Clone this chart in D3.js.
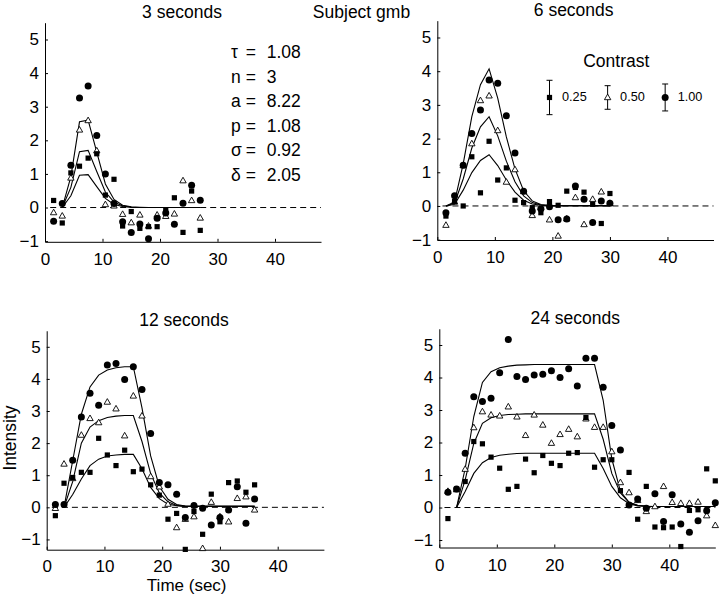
<!DOCTYPE html>
<html><head><meta charset="utf-8">
<script src="https://cdn.jsdelivr.net/npm/d3@7"></script>
<style>
body{margin:0;background:#fff}
svg{display:block}
text{font-family:"Liberation Sans",Arial,Helvetica,sans-serif;fill:#000}
</style>
</head><body>
<svg id="c" width="720" height="598"></svg>
<script>
// ---------- data ----------
const xTicks = [0, 10, 20, 30, 40];
const yTicks = [-1, 0, 1, 2, 3, 4, 5];
const titles = ["3 seconds", "6 seconds", "12 seconds", "24 seconds"];
const contrastLabels = ["0.25", "0.50", "1.00"];
const contrastErr = [0.51, 0.35, 0.40];
const paramNames = ["\u03c4", "n", "a", "p", "\u03c3", "\u03b4"];
const paramValues = ["1.08", "3", "8.22", "1.08", "0.92", "2.05"];

// sample times
const t1 = [1.5,3,4.5,6,7.5,9,10.5,12,13.5,15,16.5,18,19.5,21,22.5,24,25.5,27];
const t2 = [1.5,3,4.5,6,7.5,9,10.5,12,13.5,15,16.5,18,19.5,21,22.5,24,25.5,27,28.5,30];
const t3 = [1.5,3,4.5,6,7.5,9,10.5,12,13.5,15,16.5,18,19.5,21,22.5,24,25.5,27,28.5,30,31.5,33,34.5,36];
const t4 = [1.5,3,4.5,6,7.5,9,10.5,12,13.5,15,16.5,18,19.5,21,22.5,24,25.5,27,28.5,30,31.5,33,34.5,36,37.5,39,40.5,42,43.5,45,46.5,48];

// 3 seconds
const sq1   = [0.21,-0.46,1.03,1.23,1.47,1.6,0.37,0.84,-0.55,-0.12,-0.62,-0.57,-0.57,-0.09,0.29,-0.74,0.49,-0.68];
const tri1  = [-0.15,-0.25,0.88,2.31,2.59,1.69,0.09,0.05,-0.2,-0.45,-0.22,-0.55,-0.22,-0.26,-0.19,0.8,0.21,-0.31];
const circ1 = [-0.41,0.12,1.26,3.26,3.62,2.14,1.0,0.12,-0.42,-0.74,-0.49,-0.93,-0.32,-0.16,-0.5,0.13,0.66,0.22];
// 6 seconds
const sq2   = [-0.3,0.13,0.0,1.46,0.39,1.92,0.77,1.13,0.17,0.1,-0.05,-0.2,0.13,0.02,0.44,0.55,0.41,0.05,-0.52,0.37];
const tri2  = [-0.57,0.12,1.2,1.85,3.13,3.27,2.24,0.71,1.08,0.43,-0.28,-0.05,-0.41,-0.89,-0.38,0.25,-0.55,0.2,0.42,0.08];
const circ2 = [-0.2,0.3,1.21,2.15,2.85,3.74,3.64,2.68,1.57,0.44,-0.15,-0.08,-0.02,-0.41,-0.39,0.59,0.2,-0.49,0.15,0.08];
// 12 seconds
const sq3   = [-0.26,0.75,0.93,1.09,1.09,2.15,1.63,1.3,1.78,1.11,1.19,0.7,0.38,-0.37,-0.19,-1.31,-0.13,-0.84,0.41,-0.45,0.77,0.82,0.47,0.7];
const tri3  = [-0.03,1.35,0.9,2.25,2.77,2.64,3.28,3.07,2.23,3.47,2.85,0.96,0.64,0.1,-0.63,-0.37,-0.29,-1.28,0.16,-0.29,-0.45,0.28,0.33,-0.08];
const circ3 = [0.09,0.09,1.47,2.81,3.55,3.18,4.43,4.48,3.98,4.38,3.67,2.3,0.77,0.7,0.41,-0.32,0.06,-0.03,-0.55,-0.32,-0.08,0.64,-0.5,0.26];
// 24 seconds
const sq4   = [-0.34,0.57,0.8,2.03,1.96,1.55,1.21,0.56,0.65,1.49,1.07,1.6,1.36,1.29,1.67,1.69,2.77,1.24,1.47,1.47,0.52,1.08,-0.36,0.65,-0.6,-0.62,-0.6,-1.2,-0.09,-0.07,1.19,0.82];
const tri4  = [0.5,0.55,1.18,2.46,2.95,2.85,2.82,3.1,2.79,2.22,2.85,2.54,1.98,2.25,2.41,2.18,2.73,2.47,2.47,1.72,0.77,0.46,0.22,-0.12,0.03,0.65,0.16,0.13,0.13,0.17,-0.25,-0.55];
const circ4 = [0.47,0.57,1.67,3.41,3.26,3.36,4.15,5.17,4.03,3.94,4.08,4.1,4.21,4.0,4.27,3.74,4.59,4.59,3.7,2.52,1.77,0.08,0.26,-0.02,0.42,-0.43,0.39,-0.51,-0.76,-0.41,-0.1,0.15];

// model fit curves
const ft1 = [3,4.5,6,7.5,9,10.5,12,13.5,15,16.5,18,19.5,21,22.5,24,25.5,27];
const fitHi1  = [0,0.92,2.55,2.6,1.65,0.7,0.24,0.07,0.02,0.01,0,0,0,0,0,0,0];
const fitMid1 = [0,0.6,1.66,1.7,1.07,0.46,0.16,0.05,0.01,0,0,0,0,0,0,0,0];
const fitLo1  = [0,0.35,0.96,0.98,0.62,0.27,0.09,0.03,0.01,0,0,0,0,0,0,0,0];

const ft2 = [1.5,3,4.5,6,7.5,9,10.5,12,13.5,15,16.5,18,19.5,21,22.5,24,25.5,27,28.5,30];
const fitHi2  = [0,0.12,1.25,2.65,3.6,4.07,3.2,2.05,1.1,0.45,0.15,0.04,0.01,0.01,0.01,0.01,0.01,0.01,0.01,0.01];
const fitMid2 = [0,0.08,0.8,1.72,2.35,2.65,2.08,1.33,0.72,0.3,0.1,0.03,0.01,0.01,0.01,0.01,0.01,0.01,0.01,0.01];
const fitLo2  = [0,0.05,0.47,0.99,1.35,1.52,1.2,0.77,0.41,0.17,0.06,0.02,0.01,0.01,0.01,0.01,0.01,0.01,0.01,0.01];

const ft3 = [3,4.5,6,7.5,9,10.5,12,13.5,15,16.5,18,19.5,21,22.5,24,25.5,27,28.5,30,31.5,33,34.5,36];
const fitHi3  = [0,1.45,2.9,3.75,4.12,4.28,4.35,4.38,4.38,3.1,1.6,0.65,0.25,0.09,0.04,0.03,0.03,0.03,0.03,0.03,0.03,0.03,0.03];
const fitMid3 = [0,0.8,2.0,2.5,2.7,2.8,2.84,2.86,2.86,2.05,1.05,0.45,0.17,0.06,0.03,0.03,0.03,0.03,0.03,0.03,0.03,0.03,0.03];
const fitLo3  = [0,0.4,0.88,1.3,1.5,1.6,1.63,1.65,1.65,1.2,0.62,0.27,0.1,0.05,0.03,0.03,0.03,0.03,0.03,0.03,0.03,0.03,0.03];

const ft4 = [3,4.5,6,7.5,9,10.5,12,13.5,15,16.5,18,19.5,21,22.5,24,25.5,27,28.5,30,31.5,33,34.5,36,37.5,39,40.5,42,43.5,45,46.5,48];
const fitHi4  = [0,1.2,2.8,3.85,4.18,4.3,4.35,4.38,4.39,4.4,4.4,4.4,4.4,4.4,4.4,4.4,4.4,3.3,1.5,0.5,0.16,0.07,0.04,0.03,0.03,0.03,0.03,0.03,0.03,0.03,0.03];
const fitMid4 = [0,0.85,1.97,2.59,2.76,2.83,2.86,2.87,2.88,2.88,2.88,2.88,2.88,2.88,2.88,2.88,2.88,2.1,1.05,0.45,0.15,0.06,0.04,0.03,0.03,0.03,0.03,0.03,0.03,0.03,0.03];
const fitLo4  = [0,0.49,1.05,1.38,1.54,1.61,1.64,1.66,1.67,1.67,1.67,1.67,1.67,1.67,1.67,1.67,1.67,1.2,0.65,0.3,0.12,0.05,0.04,0.03,0.03,0.03,0.03,0.03,0.03,0.03,0.03];

// ---------- layout ----------
const panels = [
  {title: titles[0], tx:182, ty:18.3, xr:[45,321], yr:[241.8,22.7], yMin:-1.02,
   t:t1, sq:sq1, tri:tri1, circ:circ1, ft:ft1, fits:[fitHi1,fitMid1,fitLo1]},
  {title: titles[1], tx:573.7, ty:16.3, xr:[437.3,713.5], yr:[240,20.65], yMin:-1.01,
   t:t2, sq:sq2, tri:tri2, circ:circ2, ft:ft2, fits:[fitHi2,fitMid2,fitLo2]},
  {title: titles[2], tx:184, ty:326, xr:[46.7,323.9], yr:[549.7,330.75], yMin:-1.32,
   t:t3, sq:sq3, tri:tri3, circ:circ3, ft:ft3, fits:[fitHi3,fitMid3,fitLo3]},
  {title: titles[3], tx:575.3, ty:324, xr:[439.3,715.3], yr:[547.5,328.75], yMin:-1.23,
   t:t4, sq:sq4, tri:tri4, circ:circ4, ft:ft4, fits:[fitHi4,fitMid4,fitLo4]}
];

const svg = d3.select("#c");
const triPath = "M0,-3.4L3.2,2.2L-3.2,2.2Z";
const FONT = '"Liberation Sans",Arial,Helvetica,sans-serif';

function drawMarkers(g, x, y, t, vals, kind){
  const pts = t.map((tt,i)=>({t:tt, v:vals[i]})).filter(d=>d.v!=null);
  if(kind==="sq"){
    g.selectAll(null).data(pts).enter().append("rect")
      .attr("x", d=>x(d.t)-2.6).attr("y", d=>y(d.v)-2.6)
      .attr("width",5.2).attr("height",5.2).attr("fill","#000");
  } else if(kind==="circ"){
    g.selectAll(null).data(pts).enter().append("circle")
      .attr("cx", d=>x(d.t)).attr("cy", d=>y(d.v)).attr("r",3.5).attr("fill","#000");
  } else {
    g.selectAll(null).data(pts).enter().append("path")
      .attr("d", triPath).attr("transform", d=>`translate(${x(d.t)},${y(d.v)})`)
      .attr("fill","#fff").attr("stroke","#000").attr("stroke-width",0.9);
  }
}

panels.forEach((p, pi) => {
  const x = d3.scaleLinear().domain([0,48]).range(p.xr);
  const y = d3.scaleLinear().domain([p.yMin,5.5]).range(p.yr);
  const g = svg.append("g");

  // axes
  const ax = g.append("g").attr("transform",`translate(0,${p.yr[0]})`)
    .call(d3.axisBottom(x).tickValues(xTicks).tickFormat(d3.format("d"))
      .tickSizeInner(-3).tickSizeOuter(0).tickPadding(pi===2 ? 10 : 11));
  const ay = g.append("g").attr("transform",`translate(${p.xr[0]},0)`)
    .call(d3.axisLeft(y).tickValues(yTicks).tickFormat(d3.format("d"))
      .tickSizeInner(-3).tickSizeOuter(0).tickPadding(6));
  [ax, ay].forEach(a => {
    a.selectAll("text").style("font-size","17px").attr("fill","#000").style("font-family",FONT);
    a.selectAll("path,line").attr("stroke","#000");
  });

  // zero dashed line
  g.append("line").attr("x1",x(0.9)).attr("x2",x(48)).attr("y1",y(0)).attr("y2",y(0))
    .attr("stroke","#000").attr("stroke-width",1).attr("stroke-dasharray","6,4");

  // fit curves
  const line = d3.line().x(d=>x(d[0])).y(d=>y(d[1]));
  p.fits.forEach(f => {
    g.append("path").datum(p.ft.map((tt,i)=>[tt,f[i]])).attr("d",line)
      .attr("fill","none").attr("stroke","#000").attr("stroke-width",1.1);
  });

  // markers
  drawMarkers(g, x, y, p.t, p.tri, "tri");
  drawMarkers(g, x, y, p.t, p.sq, "sq");
  drawMarkers(g, x, y, p.t, p.circ, "circ");

  // title
  g.append("text").attr("x",p.tx).attr("y",p.ty).attr("text-anchor","middle")
    .style("font-size","17.5px").text(p.title);

  if(pi===0){
    paramNames.forEach((nm,i)=>{
      const by = 58.3 + i*24.5;
      g.append("text").attr("x",231).attr("y",by).style("font-size","17.5px").text(nm);
      g.append("text").attr("x",245.7).attr("y",by).style("font-size","17.5px").text("=");
      g.append("text").attr("x",266.7).attr("y",by).style("font-size","17.5px").text(paramValues[i]);
    });
  }
  if(pi===1){
    g.append("text").attr("x",616.3).attr("y",66.7).attr("text-anchor","middle")
      .style("font-size","17.5px").text("Contrast");
    const lx = [19.5, 29.6, 39.6];
    const cy = 3.22;
    const kinds = ["sq","tri","circ"];
    lx.forEach((xv,i)=>{
      const xx = x(xv);
      const y1 = y(cy+contrastErr[i]), y2 = y(cy-contrastErr[i]);
      g.append("line").attr("x1",xx).attr("x2",xx).attr("y1",y1).attr("y2",y2).attr("stroke","#000").attr("stroke-width",1);
      [y1,y2].forEach(yy=> g.append("line").attr("x1",xx-3).attr("x2",xx+3).attr("y1",yy).attr("y2",yy).attr("stroke","#000").attr("stroke-width",1));
      drawMarkers(g, x, y, [xv], [cy], kinds[i]);
      g.append("text").attr("x",xx+12.5).attr("y",101).style("font-size","12.7px").text(contrastLabels[i]);
    });
  }
  if(pi===2){
    g.append("text").attr("transform","translate(15.5,438) rotate(-90)").attr("text-anchor","middle")
      .style("font-size","17.5px").text("Intensity");
    g.append("text").attr("x",186.7).attr("y",591).attr("text-anchor","middle")
      .style("font-size","17px").text("Time (sec)");
  }
});

svg.append("text").attr("x",361.5).attr("y",17.7).attr("text-anchor","middle")
  .style("font-size","17.5px").text("Subject gmb");
</script>
</body></html>
